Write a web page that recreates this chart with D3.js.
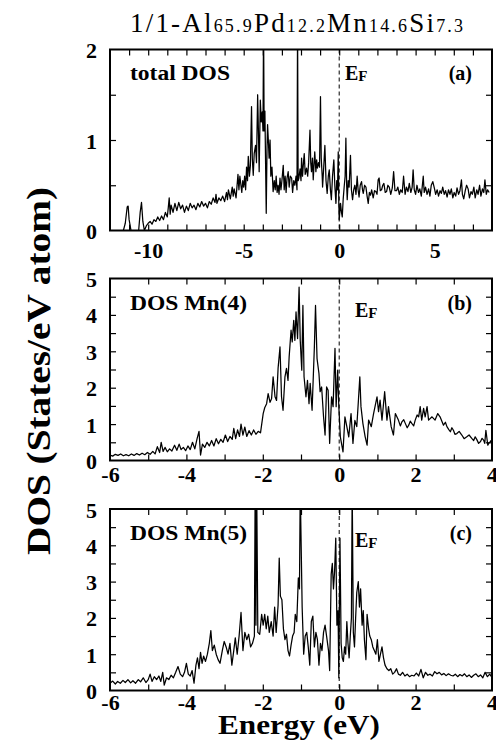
<!DOCTYPE html>
<html>
<head>
<meta charset="utf-8">
<script src="https://cdn.jsdelivr.net/npm/d3@7"></script>
<style>
	body { margin: 0; background: #fff; }
	text { font-family: "Liberation Serif", "Times New Roman", serif; fill: #000; }
</style>
</head>
<body>
<svg id="dos"></svg>
<script>
// [energy (eV), DOS (states/eV atom)]
let totalDos = [
	[-11.3,0],[-11.2,0.08],[-11.1,0.26],[-11.05,0.27],[-11.0,0.12],[-10.9,0],[-10.5,0],[-10.42,0.2],[-10.35,0.31],[-10.28,0.1],[-10.2,0],
	[-10.1,0.05],[-10.0,0.08],[-9.9,0.1],[-9.8,0.07],[-9.7,0.12],[-9.6,0.1],[-9.5,0.15],[-9.4,0.11],[-9.3,0.16],[-9.2,0.12],[-9.1,0.2],[-9.0,0.15],
	[-8.95,0.25],[-8.9,0.36],[-8.85,0.18],[-8.8,0.28],[-8.7,0.2],[-8.6,0.3],[-8.5,0.22],[-8.4,0.31],[-8.3,0.24],[-8.2,0.28],[-8.1,0.2],[-8.0,0.27],
	[-7.9,0.22],[-7.8,0.3],[-7.7,0.25],[-7.6,0.28],[-7.5,0.23],[-7.4,0.3],[-7.3,0.26],[-7.2,0.32],[-7.1,0.27],[-7.0,0.3],[-6.9,0.25],[-6.8,0.32],
	[-6.7,0.29],[-6.6,0.36],[-6.5,0.31],[-6.45,0.4],[-6.4,0.3],[-6.3,0.36],[-6.2,0.33],[-6.1,0.38],[-6.0,0.32],[-5.9,0.42],[-5.85,0.34],[-5.8,0.45],
	[-5.7,0.35],[-5.6,0.48],[-5.55,0.38],[-5.5,0.46],[-5.4,0.36],[-5.3,0.62],[-5.25,0.45],[-5.2,0.6],[-5.1,0.42],[-5.05,0.55],[-5.0,0.48],[-4.95,0.6],
	[-4.9,0.45],[-4.85,0.7],[-4.8,0.55],[-4.76,0.82],[-4.7,0.6],[-4.65,0.72],[-4.59,1.37],[-4.55,0.8],[-4.5,0.61],[-4.45,0.85],[-4.38,0.94],[-4.33,0.75],
	[-4.27,1.5],[-4.22,1.0],[-4.19,0.65],[-4.13,1.44],[-4.08,1.2],[-4.03,1.31],[-3.99,1.1],[-3.96,2.3],[-3.93,1.1],[-3.89,1.32],[-3.82,0.19],[-3.78,0.9],
	[-3.75,1.17],[-3.7,0.95],[-3.67,0.8],[-3.62,1.0],[-3.58,0.6],[-3.52,0.7],[-3.46,0.43],[-3.4,0.55],[-3.35,0.45],[-3.3,0.6],[-3.25,0.42],[-3.2,0.5],
	[-3.15,0.4],[-3.1,0.58],[-3.05,0.45],[-3.0,0.55],[-2.93,0.72],[-2.88,0.45],[-2.83,0.6],[-2.78,0.42],[-2.73,0.58],[-2.67,0.65],[-2.62,0.48],[-2.56,0.6],
	[-2.49,0.58],[-2.44,0.42],[-2.38,0.55],[-2.32,0.5],[-2.26,0.6],[-2.21,0.45],[-2.18,2.3],[-2.15,0.55],[-2.11,0.58],[-2.05,0.68],[-2.0,0.55],[-1.97,0.8],
	[-1.92,0.6],[-1.87,0.75],[-1.83,0.85],[-1.78,0.62],[-1.71,0.69],[-1.65,0.6],[-1.6,0.75],[-1.53,1.11],[-1.49,0.75],[-1.45,0.65],[-1.4,0.8],[-1.36,0.56],
	[-1.28,0.87],[-1.22,0.65],[-1.18,0.78],[-1.14,0.69],[-1.08,0.75],[-1.03,0.7],[-0.98,1.48],[-0.94,0.8],[-0.89,0.6],[-0.87,0.48],[-0.81,0.7],[-0.75,0.94],
	[-0.69,0.55],[-0.63,0.41],[-0.57,0.6],[-0.52,0.67],[-0.46,0.45],[-0.41,0.34],[-0.35,0.6],[-0.28,0.78],[-0.23,0.5],[-0.17,0.3],[-0.13,0.55],[-0.09,0.45],
	[-0.05,0.87],[-0.02,0.3],[0.0,0.12],[0.07,0.3],[0.12,0.2],[0.16,0.15],[0.21,0.35],[0.26,0.48],[0.31,0.6],[0.35,1.02],[0.39,0.5],[0.42,0.34],
	[0.47,0.55],[0.52,0.48],[0.59,0.83],[0.64,0.45],[0.7,0.34],[0.76,0.45],[0.82,0.5],[0.88,0.4],[0.94,0.6],[0.99,0.45],[1.04,0.37],[1.1,0.5],
	[1.17,0.54],[1.22,0.45],[1.26,0.41],[1.33,0.5],[1.4,0.48],[1.46,0.38],[1.52,0.3],[1.58,0.42],[1.64,0.39],[1.7,0.45],[1.78,0.36],[1.85,0.44],
	[1.92,0.43],[1.98,0.4],[2.04,0.56],[2.09,0.58],[2.15,0.44],[2.22,0.45],[2.28,0.5],[2.34,0.52],[2.41,0.42],[2.48,0.43],[2.55,0.5],[2.62,0.48],
	[2.7,0.4],[2.78,0.47],[2.85,0.65],[2.92,0.44],[3.0,0.44],[3.07,0.48],[3.15,0.4],[3.22,0.45],[3.3,0.42],[3.37,0.6],[3.45,0.4],[3.52,0.48],
	[3.6,0.43],[3.67,0.52],[3.75,0.42],[3.82,0.48],[3.87,0.67],[3.93,0.45],[4.0,0.4],[4.07,0.5],[4.15,0.42],[4.22,0.46],[4.3,0.38],[4.4,0.6],
	[4.45,0.42],[4.52,0.48],[4.6,0.4],[4.68,0.46],[4.75,0.38],[4.82,0.5],[4.9,0.54],[4.98,0.47],[5.05,0.4],[5.13,0.45],[5.2,0.38],[5.28,0.44],
	[5.35,0.41],[5.42,0.48],[5.5,0.4],[5.57,0.44],[5.65,0.37],[5.72,0.45],[5.8,0.4],[5.87,0.46],[5.95,0.36],[6.02,0.42],[6.1,0.38],[6.17,0.47],
	[6.25,0.4],[6.32,0.44],[6.4,0.56],[6.45,0.4],[6.52,0.35],[6.6,0.44],[6.67,0.5],[6.75,0.46],[6.82,0.36],[6.9,0.43],[6.97,0.4],[7.05,0.48],
	[7.12,0.36],[7.2,0.45],[7.27,0.4],[7.35,0.5],[7.42,0.38],[7.5,0.46],[7.57,0.42],[7.63,0.56],[7.7,0.4],[7.77,0.45],[7.85,0.42]
];

let mn4Dos = [
	[-6.0,0.15],[-5.93,0.12],[-5.86,0.17],[-5.79,0.14],[-5.72,0.18],[-5.65,0.13],[-5.58,0.16],[-5.51,0.13],[-5.44,0.18],[-5.37,0.14],[-5.3,0.19],[-5.23,0.15],
	[-5.16,0.2],[-5.09,0.16],[-5.02,0.22],[-4.95,0.17],[-4.88,0.25],[-4.82,0.18],[-4.76,0.38],[-4.7,0.22],[-4.66,0.5],[-4.61,0.25],[-4.56,0.36],[-4.5,0.24],
	[-4.44,0.32],[-4.38,0.26],[-4.31,0.42],[-4.25,0.28],[-4.19,0.45],[-4.14,0.3],[-4.08,0.36],[-4.02,0.27],[-3.96,0.4],[-3.9,0.3],[-3.84,0.5],[-3.78,0.32],
	[-3.72,0.6],[-3.67,0.8],[-3.63,0.15],[-3.58,0.45],[-3.52,0.36],[-3.46,0.5],[-3.4,0.4],[-3.34,0.55],[-3.28,0.4],[-3.22,0.6],[-3.16,0.46],[-3.1,0.58],
	[-3.04,0.5],[-2.98,0.7],[-2.92,0.52],[-2.86,0.66],[-2.8,0.58],[-2.76,0.88],[-2.71,0.6],[-2.66,0.84],[-2.61,0.66],[-2.57,1.0],[-2.52,0.7],[-2.47,0.92],
	[-2.42,0.66],[-2.36,0.82],[-2.3,0.7],[-2.24,0.84],[-2.18,0.72],[-2.12,0.8],[-2.06,0.76],[-1.99,1.29],[-1.95,1.45],[-1.9,1.56],[-1.86,1.84],[-1.81,1.6],
	[-1.77,1.7],[-1.73,2.3],[-1.68,1.75],[-1.64,1.65],[-1.6,2.53],[-1.55,3.12],[-1.51,1.75],[-1.47,1.38],[-1.42,2.3],[-1.38,2.53],[-1.34,2.2],[-1.31,2.85],
	[-1.26,3.58],[-1.23,3.26],[-1.19,3.85],[-1.16,3.3],[-1.13,4.08],[-1.09,3.35],[-1.05,4.76],[-1.02,3.3],[-0.98,2.48],[-0.95,4.26],[-0.92,2.3],[-0.87,1.75],
	[-0.83,2.2],[-0.79,1.56],[-0.76,2.12],[-0.71,1.38],[-0.65,3.12],[-0.62,4.26],[-0.58,2.8],[-0.53,2.39],[-0.5,1.89],[-0.46,2.02],[-0.41,1.2],[-0.37,0.7],
	[-0.33,2.02],[-0.29,1.93],[-0.25,0.47],[-0.2,1.75],[-0.16,1.48],[-0.11,3.08],[-0.08,1.48],[-0.04,2.48],[-0.01,1.48],[0.03,0.65],[0.06,0.47],[0.1,0.24],
	[0.15,1.2],[0.2,0.93],[0.25,0.65],[0.31,1.29],[0.36,0.47],[0.41,1.1],[0.46,0.93],[0.5,1.6],[0.54,2.3],[0.57,1.48],[0.62,1.02],[0.68,0.65],
	[0.73,0.42],[0.77,1.11],[0.84,0.93],[0.9,1.29],[0.99,1.75],[1.03,1.34],[1.07,1.66],[1.12,1.11],[1.19,1.89],[1.25,1.11],[1.29,1.48],[1.36,0.93],
	[1.42,0.7],[1.47,1.29],[1.55,1.11],[1.6,0.95],[1.64,1.06],[1.69,1.12],[1.73,1.02],[1.78,0.9],[1.82,0.97],[1.86,1.08],[1.9,1.02],[1.95,0.95],
	[1.99,1.11],[2.04,1.25],[2.08,1.2],[2.12,1.48],[2.16,1.11],[2.21,1.43],[2.25,1.2],[2.3,1.48],[2.34,1.11],[2.43,1.2],[2.51,1.11],[2.58,1.29],
	[2.64,1.2],[2.73,0.97],[2.78,1.05],[2.82,0.93],[2.87,0.85],[2.91,0.79],[2.95,0.9],[2.99,0.83],[3.03,0.72],[3.08,0.74],[3.14,0.8],[3.21,0.7],
	[3.27,0.6],[3.34,0.65],[3.4,0.7],[3.47,0.61],[3.52,0.55],[3.56,0.65],[3.6,0.58],[3.65,0.47],[3.7,0.52],[3.74,0.61],[3.78,0.56],[3.81,0.47],
	[3.84,0.83],[3.89,0.42],[3.92,0.48],[3.95,0.51],[3.98,0.55],[4.0,0.47]
];

let mn5Dos = [
	[-6.0,0.2],[-5.93,0.26],[-5.86,0.18],[-5.8,0.25],[-5.73,0.2],[-5.66,0.28],[-5.6,0.22],[-5.53,0.3],[-5.46,0.21],[-5.4,0.27],[-5.33,0.2],[-5.26,0.3],
	[-5.2,0.24],[-5.13,0.35],[-5.06,0.22],[-5.0,0.3],[-4.95,0.45],[-4.9,0.25],[-4.84,0.38],[-4.78,0.3],[-4.72,0.4],[-4.67,0.25],[-4.62,0.5],[-4.58,0.15],
	[-4.52,0.35],[-4.46,0.3],[-4.4,0.42],[-4.34,0.35],[-4.28,0.5],[-4.22,0.66],[-4.16,0.45],[-4.1,0.38],[-4.05,0.5],[-4.0,0.75],[-3.95,0.45],[-3.9,0.4],
	[-3.85,0.55],[-3.8,0.2],[-3.75,0.7],[-3.71,0.9],[-3.67,0.6],[-3.63,1.05],[-3.59,0.75],[-3.55,0.95],[-3.5,0.8],[-3.45,1.0],[-3.4,1.3],[-3.36,1.65],
	[-3.32,1.1],[-3.27,1.25],[-3.22,1.0],[-3.17,0.85],[-3.12,0.75],[-3.06,1.1],[-3.01,1.35],[-2.96,1.2],[-2.91,1.0],[-2.86,1.3],[-2.81,0.7],[-2.76,1.1],
	[-2.72,1.45],[-2.67,1.0],[-2.62,1.5],[-2.57,2.15],[-2.52,1.1],[-2.47,1.6],[-2.42,1.4],[-2.37,1.55],[-2.32,1.2],[-2.27,1.3],[-2.22,1.5],[-2.2,5.6],
	[-2.18,1.8],[-2.16,5.6],[-2.13,1.6],[-2.08,1.55],[-2.03,2.1],[-1.99,1.8],[-1.95,2.1],[-1.91,1.7],[-1.87,2.05],[-1.83,1.6],[-1.78,1.9],[-1.73,1.5],
	[-1.69,2.3],[-1.65,1.6],[-1.6,2.35],[-1.57,3.65],[-1.54,2.6],[-1.5,2.5],[-1.46,1.7],[-1.42,1.4],[-1.38,1.55],[-1.34,1.1],[-1.3,0.95],[-1.26,1.25],
	[-1.22,1.5],[-1.18,1.6],[-1.15,2.1],[-1.11,1.9],[-1.07,3.1],[-1.04,2.8],[-1.02,5.6],[-0.97,2.3],[-0.93,1.0],[-0.89,1.5],[-0.85,1.6],[-0.81,1.2],
	[-0.77,0.7],[-0.73,1.9],[-0.69,2.05],[-0.65,1.2],[-0.61,1.6],[-0.57,1.4],[-0.53,0.7],[-0.49,1.3],[-0.45,1.1],[-0.41,1.6],[-0.37,1.8],[-0.33,1.5],
	[-0.28,1.1],[-0.25,0.55],[-0.21,3.2],[-0.18,3.5],[-0.15,2.8],[-0.12,3.3],[-0.09,4.2],[-0.06,1.8],[-0.03,2.2],[-0.01,0.35],[0.02,4.2],[0.05,1.3],
	[0.08,0.9],[0.11,0.8],[0.14,1.2],[0.17,1.0],[0.2,1.9],[0.23,1.3],[0.26,0.9],[0.29,1.5],[0.32,2.0],[0.34,5.6],[0.37,1.6],[0.4,1.2],
	[0.43,2.0],[0.46,2.7],[0.5,3.0],[0.53,2.3],[0.56,2.8],[0.6,1.8],[0.63,2.2],[0.66,1.4],[0.7,0.85],[0.73,2.1],[0.77,1.7],[0.8,1.5],
	[0.84,1.4],[0.88,1.2],[0.92,1.1],[0.96,1.0],[1.0,1.4],[1.04,0.8],[1.08,1.0],[1.12,1.2],[1.16,0.9],[1.2,0.7],[1.25,0.6],[1.3,0.55],
	[1.35,0.6],[1.4,0.45],[1.45,0.5],[1.5,0.6],[1.55,0.45],[1.6,0.42],[1.66,0.5],[1.72,0.4],[1.78,0.45],[1.84,0.38],[1.9,0.42],[1.96,0.4],
	[2.02,0.48],[2.08,0.4],[2.14,0.58],[2.2,0.35],[2.26,0.5],[2.32,0.42],[2.38,0.45],[2.44,0.4],[2.5,0.52],[2.56,0.46],[2.62,0.5],[2.68,0.43],
	[2.74,0.47],[2.8,0.41],[2.86,0.46],[2.92,0.42],[2.98,0.4],[3.04,0.45],[3.1,0.38],[3.16,0.44],[3.22,0.4],[3.28,0.46],[3.34,0.38],[3.4,0.43],
	[3.46,0.36],[3.52,0.42],[3.58,0.46],[3.64,0.38],[3.7,0.43],[3.76,0.35],[3.82,0.5],[3.88,0.38],[3.94,0.45],[4.0,0.36]
];

// tick labels
let xLabelsA = [-10, -5, 0, 5];
let yLabelsA = [0, 1, 2];
let xLabelsB = [-6, -4, -2, 0, 2, 4];
let yLabelsB = [0, 1, 2, 3, 4, 5];
// minor ticks (1 eV on x, 0.5 on y)
let xTicksA = d3.range(-11, 8, 1);
let xTicksB = d3.range(-5, 4, 1);
let yTicksA = [0.5, 1, 1.5];
let yTicksB = [0.5, 1, 1.5, 2, 2.5, 3, 3.5, 4, 4.5];

let panelNames = ['total DOS', 'DOS Mn(4)', 'DOS Mn(5)'];
let panelTags = ['(a)', '(b)', '(c)'];
let titleParts = [['1/1-Al', false], ['65.9', true], ['Pd', false], ['12.2', true], ['Mn', false], ['14.6', true], ['Si', false], ['7.3', true]];

let serif = '"Liberation Serif", "Times New Roman", serif';

function makeChart() {
	let w = 496;
	let h = 750;
	let left = 110;
	let right = 492;

	let svg = d3.select('#dos')
		.attr('width', w)
		.attr('height', h);

	let panels = [
		{data: totalDos, xDomain: [-12, 8], yDomain: [0, 2], xTicks: xTicksA, yTicks: yTicksA, xLabels: xLabelsA, yLabels: yLabelsA,
			top: 49.5, bottom: 230.5, labelOff: 27.5, nameY: 80, nameW: 100, efX: 345, efY: 80},
		{data: mn4Dos, xDomain: [-6, 4], yDomain: [0, 5], xTicks: xTicksB, yTicks: yTicksB, xLabels: xLabelsB, yLabels: yLabelsB,
			top: 278.5, bottom: 460.5, labelOff: 21.5, nameY: 310, nameW: 117, efX: 355, efY: 317},
		{data: mn5Dos, xDomain: [-6, 4], yDomain: [0, 5], xTicks: xTicksB, yTicks: yTicksB, xLabels: xLabelsB, yLabels: yLabelsB,
			top: 509, bottom: 690.5, labelOff: 19.5, nameY: 540, nameW: 117, efX: 355, efY: 547}
	];

	panels.forEach((p, i) => {
		let xScale = d3.scaleLinear().domain(p.xDomain).range([left, right]);
		let yScale = d3.scaleLinear().domain(p.yDomain).range([p.bottom, p.top]);
		let g = svg.append('g');

		g.append('clipPath')
			.attr('id', 'clip' + i)
			.append('rect')
			.attr('x', left)
			.attr('y', p.top)
			.attr('width', right - left)
			.attr('height', p.bottom - p.top);

		//inward ticks on all four sides
		let t = 6;
		g.append('g').attr('transform', `translate(0, ${p.bottom})`)
			.call(d3.axisBottom(xScale).tickValues(p.xTicks).tickSize(-t).tickFormat(''));
		g.append('g').attr('transform', `translate(0, ${p.top})`)
			.call(d3.axisTop(xScale).tickValues(p.xTicks).tickSize(-t).tickFormat(''));
		g.append('g').attr('transform', `translate(${left}, 0)`)
			.call(d3.axisLeft(yScale).tickValues(p.yTicks).tickSize(-t).tickFormat(''));
		g.append('g').attr('transform', `translate(${right}, 0)`)
			.call(d3.axisRight(yScale).tickValues(p.yTicks).tickSize(-t).tickFormat(''));

		//tick labels
		g.append('g').attr('transform', `translate(0, ${p.bottom})`)
			.attr('font-family', serif)
			.call(d3.axisBottom(xScale).tickValues(p.xLabels).tickSize(0).tickFormat(d => String(d)))
			.attr('font-family', serif)
			.selectAll('text')
			.attr('y', p.labelOff)
			.attr('dy', 0)
			.style('font-family', serif)
			.style('font-size', '22px')
			.style('font-weight', 'bold');
		g.append('g').attr('transform', `translate(${left}, 0)`)
			.call(d3.axisLeft(yScale).tickValues(p.yLabels).tickSize(0).tickFormat(d => String(d)))
			.attr('font-family', serif)
			.selectAll('text')
			.attr('x', -13)
			.attr('dy', 8)
			.style('font-family', serif)
			.style('font-size', '22px')
			.style('font-weight', 'bold');

		g.selectAll('.domain').remove();
		g.selectAll('.tick line').attr('stroke', '#000').attr('stroke-width', 1.2);

		//curve
		let line = d3.line()
			.x(d => xScale(d[0]))
			.y(d => yScale(d[1]));

		g.append('path')
			.datum(p.data)
			.attr('clip-path', `url(#clip${i})`)
			.attr('fill', 'none')
			.attr('stroke', '#000')
			.attr('stroke-width', 1.25)
			.attr('stroke-linejoin', 'round')
			.attr('d', line);

		//fermi level
		g.append('line')
			.attr('x1', xScale(0))
			.attr('x2', xScale(0))
			.attr('y1', p.top)
			.attr('y2', p.bottom)
			.attr('stroke', '#000')
			.attr('stroke-width', 1)
			.attr('stroke-dasharray', '4,3');

		//frame
		g.append('rect')
			.attr('x', left)
			.attr('y', p.top)
			.attr('width', right - left)
			.attr('height', p.bottom - p.top)
			.attr('fill', 'none')
			.attr('stroke', '#000')
			.attr('stroke-width', 2);

		//panel labels
		g.append('text')
			.attr('x', 130)
			.attr('y', p.nameY)
			.attr('textLength', p.nameW)
			.attr('lengthAdjust', 'spacingAndGlyphs')
			.style('font-size', '20px')
			.style('font-weight', 'bold')
			.text(panelNames[i]);

		g.append('text')
			.attr('x', 472)
			.attr('y', p.nameY)
			.style('text-anchor', 'end')
			.style('font-size', '20px')
			.style('font-weight', 'bold')
			.text(panelTags[i]);

		let ef = g.append('text')
			.attr('x', p.efX)
			.attr('y', p.efY)
			.style('font-size', '20px')
			.style('font-weight', 'bold');
		ef.append('tspan').text('E');
		ef.append('tspan').attr('dy', 1).style('font-size', '15px').text('F');
	});

	//title
	let title = svg.append('text')
		.attr('x', 130)
		.attr('y', 32)
		.attr('textLength', 333)
		.attr('lengthAdjust', 'spacing')
		.style('font-size', '27px');
	titleParts.forEach(s => title.append('tspan')
		.style('font-size', s[1] ? '18px' : '27px')
		.text(s[0]));

	//axis titles
	svg.append('text')
		.attr('x', 299)
		.attr('y', 734)
		.attr('textLength', 162)
		.attr('lengthAdjust', 'spacingAndGlyphs')
		.style('text-anchor', 'middle')
		.style('font-size', '28px')
		.style('font-weight', 'bold')
		.text('Energy (eV)');

	svg.append('text')
		.attr('transform', 'translate(50, 371) rotate(-90)')
		.attr('textLength', 368)
		.attr('lengthAdjust', 'spacingAndGlyphs')
		.style('text-anchor', 'middle')
		.style('font-size', '34px')
		.style('font-weight', 'bold')
		.text('DOS (States/eV atom)');
}

makeChart();
</script>
</body>
</html>
